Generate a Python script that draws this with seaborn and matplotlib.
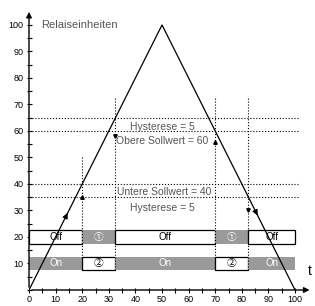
import matplotlib
matplotlib.use("Agg")
import matplotlib.pyplot as plt
import seaborn as sns
import numpy as np

# relay units over time (triangle ramp)
t_values = [0, 50, 100]
relay_values = [0, 100, 0]

upper_setpoint = 60
lower_setpoint = 40
hysteresis = 5

# switching instants
switch_times = [20, 32.5, 70, 82.5]
vline_tops = [50, 72.5, 72.5, 72.5]

# state bars: (start, end, label)
off_row = [(0, 20, "Off"), (20, 32.5, "\u2460"), (32.5, 70, "Off"), (70, 82.5, "\u2460"), (82.5, 100, "Off")]
on_row = [(0, 20, "On"), (20, 32.5, "\u2461"), (32.5, 70, "On"), (70, 82.5, "\u2461"), (82.5, 100, "On")]
off_filled = [False, True, False, True, False]
on_filled = [True, False, True, False, True]

xticks = list(range(0, 101, 5))
yticks = list(range(0, 101, 5))

sns.set_style("ticks")
plt.rcParams["font.family"] = ["Liberation Sans", "Noto Sans CJK SC", "DejaVu Sans"]

grey = "#9a9a9a"
txt = "#555555"

fig = plt.figure(figsize=(3.15, 3.06), dpi=100)
ax = fig.add_axes([0.0921, 0.0523, 0.8994, 0.9267])
ax.set_xlim(0, 106.5)
ax.set_ylim(0, 107)

# state bars
def draw_row(row, filled, y0, h):
    for (a, b, lab), f in zip(row, filled):
        if f:
            ax.add_patch(plt.Rectangle((a, y0), b - a, h, facecolor=grey, edgecolor="none", zorder=1))
            ax.text((a + b) / 2, y0 + h / 2, lab, color="white", fontsize=7, ha="center", va="center", zorder=2)
        else:
            ax.add_patch(plt.Rectangle((a, y0), b - a, h, facecolor="white", edgecolor="black", lw=0.9, zorder=1))
            ax.text((a + b) / 2, y0 + h / 2, lab, color="black", fontsize=7, ha="center", va="center", zorder=2)

draw_row(off_row, off_filled, 17.5, 5)
draw_row(on_row, on_filled, 7.5, 5)

# setpoint / hysteresis lines
for y in [upper_setpoint + hysteresis, upper_setpoint, lower_setpoint, lower_setpoint - hysteresis]:
    ax.plot([0, 101], [y, y], color="black", ls=":", lw=0.8, zorder=3)

for x, top in zip(switch_times, vline_tops):
    ax.plot([x, x], [7.5, top], color="black", ls=":", lw=0.8, zorder=3)

# the ramp
sns.lineplot(x=t_values, y=relay_values, color="black", lw=0.9, ax=ax, zorder=4)
ax.annotate("", xy=(15, 30), xytext=(13.3, 26.6),
            arrowprops=dict(arrowstyle="-|>", color="black", lw=0.8, mutation_scale=8))
ax.annotate("", xy=(86.4, 27.2), xytext=(84.8, 30.4),
            arrowprops=dict(arrowstyle="-|>", color="black", lw=0.8, mutation_scale=8))

# small markers on switching lines
ax.plot([20], [35], marker="^", color="black", ms=2.5, zorder=5)
ax.plot([32.5], [58], marker="v", color="black", ms=2.5, zorder=5)
ax.plot([70], [56], marker="^", color="black", ms=2.5, zorder=5)
ax.plot([82.5], [30], marker="v", color="black", ms=2.5, zorder=5)

# labels
ax.text(4.5, 100, "Relaiseinheiten", color=txt, fontsize=8, va="center")
ax.text(50, 61.6, "Hysterese = 5", color=txt, fontsize=7.5, ha="center", va="center")
ax.text(50, 56.2, "Obere Sollwert = 60", color=txt, fontsize=7.5, ha="center", va="center")
ax.text(51, 36.8, "Untere Sollwert = 40", color=txt, fontsize=7.5, ha="center", va="center")
ax.text(50, 31, "Hysterese = 5", color=txt, fontsize=7.5, ha="center", va="center")
ax.text(105.5, 7, "t", color="black", fontsize=10, ha="center", va="center")

# axes with arrows
for s in ax.spines.values():
    s.set_visible(False)
ax.annotate("", xy=(106.5, 0), xytext=(0, 0), annotation_clip=False,
            arrowprops=dict(arrowstyle="-|>", color="black", lw=1, mutation_scale=8))
ax.annotate("", xy=(0, 106), xytext=(0, 0), annotation_clip=False,
            arrowprops=dict(arrowstyle="-|>", color="black", lw=1, mutation_scale=8))

ax.set_xticks(xticks)
ax.set_xticklabels([str(v) if v % 10 == 0 else "" for v in xticks])
ax.set_yticks(yticks)
ax.set_yticklabels([str(v) if (v % 10 == 0 and v > 0) else "" for v in yticks])
ax.tick_params(direction="inout", length=3.6, width=0.8, labelsize=6.5, pad=2, colors="black")

fig.savefig("out.png", dpi=100)
